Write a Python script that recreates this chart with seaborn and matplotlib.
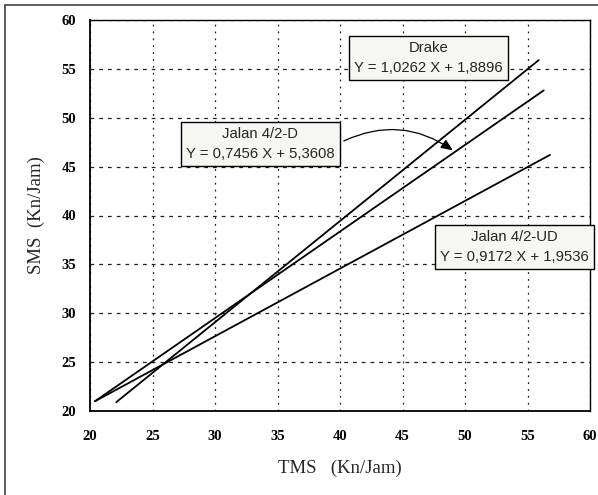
import matplotlib
matplotlib.use("Agg")
import matplotlib.pyplot as plt
from matplotlib.lines import Line2D
import seaborn as sns
import pandas as pd

# ---- data ----
series = ["Drake", "Jalan 4/2-D", "Jalan 4/2-UD"]
x_start = [22.1, 20.4, 20.4]
x_end = [55.9, 56.3, 56.8]
y_start = [20.9, 21.0, 21.0]
y_end = [55.9, 52.8, 46.2]
equations = ["Y = 1,0262 X + 1,8896", "Y = 0,7456 X + 5,3608", "Y = 0,9172 X + 1,9536"]
ticks = [20, 25, 30, 35, 40, 45, 50, 55, 60]
x_label = "TMS   (Kn/Jam)"
y_label = "SMS  (Kn/Jam)"

rows = []
for s, xa, xb, ya, yb in zip(series, x_start, x_end, y_start, y_end):
    rows.append({"series": s, "TMS": xa, "SMS": ya})
    rows.append({"series": s, "TMS": xb, "SMS": yb})
df = pd.DataFrame(rows)

sns.set_style("white")
plt.rcParams["font.family"] = ["Liberation Sans", "DejaVu Sans"]

fig = plt.figure(figsize=(5.98, 4.95), dpi=100)
ax = fig.add_axes([90 / 598, 1 - 411 / 495, 500 / 598, 391 / 495])

sns.lineplot(data=df, x="TMS", y="SMS", hue="series",
             palette={s: "black" for s in series}, estimator=None,
             sort=True, legend=False, linewidth=1.3, ax=ax)

ax.set_xlim(20, 60)
ax.set_ylim(20, 60)
ax.set_xticks(ticks)
ax.set_yticks(ticks)
ax.set_xticklabels([str(t) for t in ticks], fontfamily="Liberation Serif",
                   fontweight="bold", fontsize=10.5)
ax.set_yticklabels([str(t) for t in ticks], fontfamily="Liberation Serif",
                   fontweight="bold", fontsize=10.5)
ax.tick_params(axis="x", direction="out", length=3, width=1, pad=11, colors="black")
ax.tick_params(axis="y", direction="out", length=3, width=1, pad=7, colors="black")
ax.grid(True, axis="x", color="#222222", linestyle=(0, (1.5, 4)), linewidth=0.9)
ax.grid(True, axis="y", color="#222222", linestyle=(0, (3, 4)), linewidth=0.9)
for side in ["left", "bottom", "top", "right"]:
    ax.spines[side].set_visible(True)
    ax.spines[side].set_color("black")
    ax.spines[side].set_linewidth(1.0)
ax.spines["left"].set_linewidth(1.3)
ax.spines["bottom"].set_linewidth(1.3)

ax.set_xlabel(x_label, fontfamily="Liberation Serif", fontsize=13.5, labelpad=12)
ax.set_ylabel(y_label, fontfamily="Liberation Serif", fontsize=13.5)
ax.yaxis.set_label_coords(-0.09, 0.5)

box = dict(boxstyle="square,pad=0.35", facecolor="#f6f6f2", edgecolor="black", linewidth=1.0)
# text boxes (positions in data coordinates)
ax.text(47.1, 56.1, f"{series[0]}\n{equations[0]}", ha="center", va="center",
        multialignment="center", fontsize=10.7, bbox=box, linespacing=1.5)
ax.text(33.64, 47.3, f"{series[1]}\n{equations[1]}", ha="center", va="center",
        multialignment="center", fontsize=10.7, bbox=box, linespacing=1.5)
ax.text(53.96, 36.8, f"{series[2]}\n{equations[2]}", ha="center", va="center",
        multialignment="center", fontsize=10.7, bbox=box, linespacing=1.5, clip_on=False)

ax.annotate("", xy=(49.2, 46.5), xytext=(40.1, 47.5),
            arrowprops=dict(arrowstyle="-|>,head_length=0.7,head_width=0.3",
                            connectionstyle="arc3,rad=-0.3", color="black", lw=0.9))

# scanned page frame
fig.add_artist(Line2D([5 / 598, 1.0], [1 - 5 / 495, 1 - 5 / 495],
                      transform=fig.transFigure, color="#444444", lw=1.2))
fig.add_artist(Line2D([5 / 598, 5 / 598], [0, 1 - 5 / 495],
                      transform=fig.transFigure, color="#444444", lw=1.2))

fig.savefig("out.png", dpi=100)
